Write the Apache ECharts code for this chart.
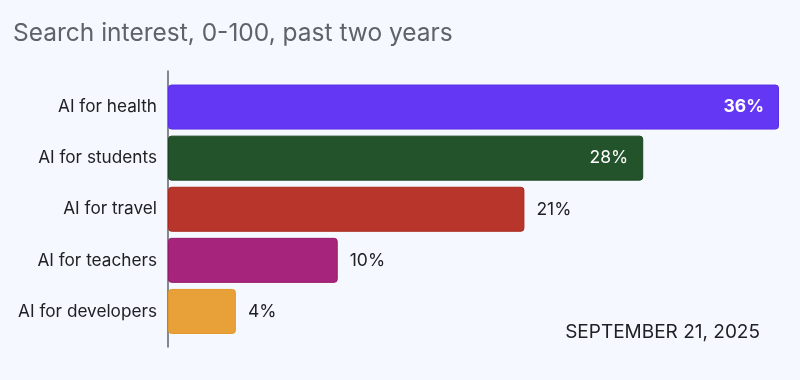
<!DOCTYPE html>
<html>
<head>
<meta charset="utf-8">
<script src="https://cdn.jsdelivr.net/npm/echarts@6/dist/echarts.min.js"></script>
<style>
html,body{margin:0;padding:0;background:#F5F8FE;}
#c{width:800px;height:380px;}
</style>
</head>
<body>
<div id="c"></div>
<script>
const titleText = 'Search interest, 0-100, past two years';
const dateText = 'SEPTEMBER 21, 2025';
const categories = ['AI for health', 'AI for students', 'AI for travel', 'AI for teachers', 'AI for developers'];
const values = [36, 28, 21, 10, 4];
const fillColors = ['#6437F5', '#23532A', '#B7352B', '#A6247B', '#E8A038'];
const borderColors = ['#5A2DE6', '#1B4521', '#A9281F', '#961A6C', '#E3982B'];
const insideLabel = [true, true, false, false, false];

const FONT = 'Inter, Roboto, "Noto Sans", sans-serif';
const chart = echarts.init(document.getElementById('c'), null, {renderer: 'canvas'});

const data = values.map((v, i) => ({
  value: v,
  itemStyle: {color: fillColors[i], borderColor: borderColors[i], borderWidth: 1, borderRadius: 3},
  label: insideLabel[i] ? {
    position: 'insideRight', distance: 15, color: '#ffffff',
    fontWeight: i === 0 ? 'bold' : 'normal'
  } : {position: 'right', distance: 12, color: '#202124'}
}));

chart.setOption({
  backgroundColor: '#F5F8FE',
  animation: false,
  textStyle: {fontFamily: FONT},
  title: [
    {text: titleText, left: 8, top: 16,
     textStyle: {fontFamily: FONT, fontSize: 24.5, fontWeight: 'normal', color: '#5F6368'}},
    {text: dateText, right: 35, top: 318,
     textStyle: {fontFamily: FONT, fontSize: 19, fontWeight: 'normal', color: '#202124'}}
  ],
  grid: [
    {left: 168, width: 611, top: 81.5, height: 255.5, containLabel: false},
    {left: 168, width: 611, top: 71, height: 276, containLabel: false}
  ],
  xAxis: [
    {type: 'value', gridIndex: 0, min: 0, max: 36, show: false},
    {type: 'value', gridIndex: 1, min: 0, max: 36, show: false}
  ],
  yAxis: [
    {type: 'category', gridIndex: 0, data: categories, inverse: true,
     axisLine: {show: false}, axisTick: {show: false},
     axisLabel: {fontFamily: FONT, fontSize: 17.2, color: '#202124', margin: 11}},
    {type: 'category', gridIndex: 1, data: [''],
     axisLine: {show: true, lineStyle: {color: '#5F6368', width: 1.5}},
     axisTick: {show: false}, axisLabel: {show: false}}
  ],
  series: [{
    type: 'bar', xAxisIndex: 0, yAxisIndex: 0,
    data: data, barWidth: 45,
    label: {show: true, formatter: '{c}%', fontFamily: FONT, fontSize: 17.5}
  }]
});
</script>
</body>
</html>
